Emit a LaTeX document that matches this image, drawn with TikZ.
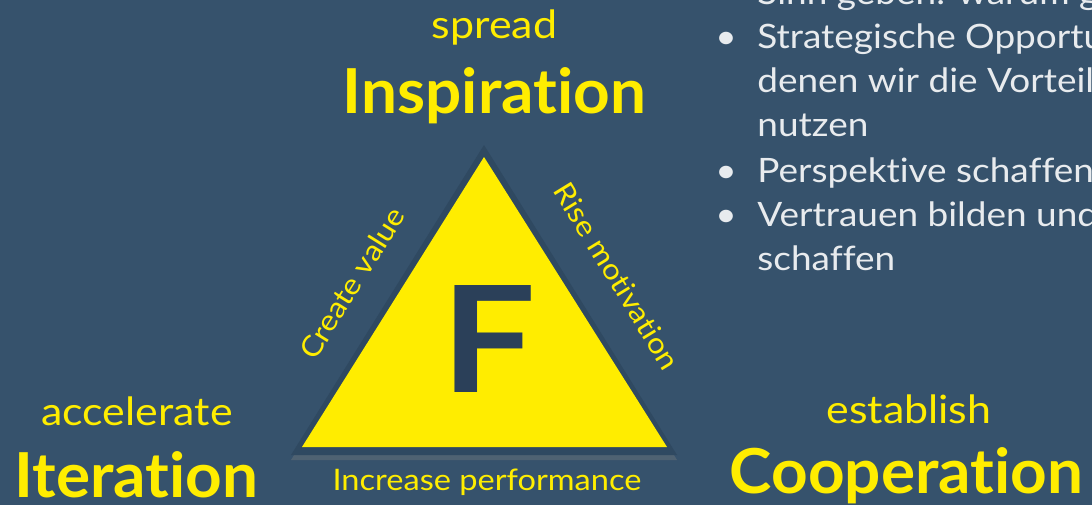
\documentclass[tikz,border=0pt]{standalone}
\usepackage{fontspec}
\setmainfont{Lato}[Ligatures=NoCommon, FakeStretch=1.1, BoldFeatures={FakeStretch=1.03}]
\newfontfamily\bigletter{Lato}[Ligatures=NoCommon, FakeStretch=1.13]
\usetikzlibrary{shadows}
\definecolor{bgblue}{HTML}{36526C}
\definecolor{fyellow}{HTML}{FFED00}
\definecolor{fnavy}{HTML}{2B4059}
\definecolor{rim}{HTML}{2F4961}
\definecolor{paper}{HTML}{E8EBEE}
\tikzset{
  verb/.style={text=fyellow, font=\fontsize{19.5}{19.5}\selectfont, inner sep=0pt, anchor=base},
  pillar/.style={text=fyellow, font=\bfseries\fontsize{31}{31}\selectfont, inner sep=0pt, anchor=base},
  sidelabel/.style={text=fyellow, font=\fontsize{14.3}{14.3}\selectfont, inner sep=0pt},
  listline/.style={text=paper, font=\fontsize{16.8}{16.8}\selectfont, inner sep=0pt, anchor=base west},
}
\begin{document}
\begin{tikzpicture}[x=0.5pt,y=-0.5pt]
\useasboundingbox (0,0) rectangle (1092,505);
\fill[bgblue] (0,0) rectangle (1092,505);
\clip (0,0) rectangle (1092,505);
% the triangle
\coordinate (apex) at (484,157);
\coordinate (left) at (302,447);
\coordinate (right) at (667,447);
\fill[rim, drop shadow={shadow xshift=0pt, shadow yshift=-2.5pt, opacity=0.35}]
  (484,145) -- (291,455) -- (677,455) -- cycle;
\fill[fyellow] (apex) -- (left) -- (right) -- cycle;
\node[text=fnavy, font=\bigletter\bfseries\fontsize{74}{74}\selectfont, inner sep=0pt] (letter) at (488.5,339) {F};
% sides
\node[sidelabel, rotate=58] (value) at (352,283) {Create value};
\node[sidelabel, rotate=-58.5] (motivation) at (617,276) {Rise motivation};
\node[sidelabel, font=\fontsize{14.8}{14.8}\selectfont, anchor=base] (performance) at (487,490) {Increase performance};
% corners
\node[verb] (spread) at (494.5,38) {spread};
\node[pillar] (inspiration) at (494.5,113) {Inspiration};
\node[verb] (accelerate) at (137,425) {accelerate};
\node[pillar] (iteration) at (136.5,497) {Iteration};
\node[verb] (establish) at (909,423) {establish};
\node[pillar] (cooperation) at (906.5,493) {Cooperation};
% list on the right
\node[listline] (l0) at (757,4) {Sinn geben: warum g};
\node[listline] (l1) at (757,48) {Strategische Opportu};
\node[listline] (l2) at (757,92) {denen wir die Vorteil};
\node[listline] (l3) at (757,136) {nutzen};
\node[listline] (l4) at (757,182) {Perspektive schaffen};
\node[listline] (l5) at (757,226) {Vertrauen bilden und};
\node[listline] (l6) at (757,270) {schaffen};
\foreach \n in {l1,l4,l5}
  \node[listline, anchor=base] at (726,0 |- \n.base) {•};
\end{tikzpicture}
\end{document}
